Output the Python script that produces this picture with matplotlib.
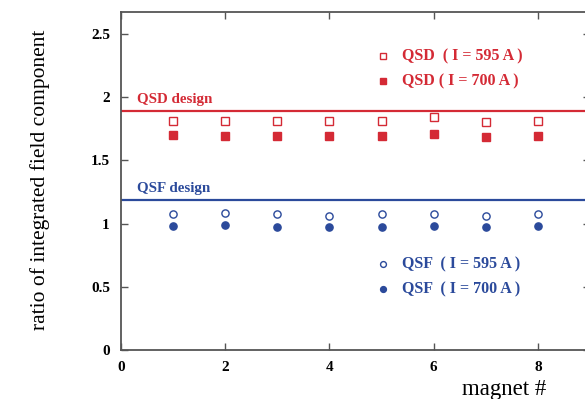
import matplotlib
matplotlib.use("Agg")
import matplotlib.pyplot as plt

# Magnet index
magnets = [1, 2, 3, 4, 5, 6, 7, 8]

# Ratio of integrated field component per magnet
qsd_595 = [1.814, 1.814, 1.814, 1.814, 1.814, 1.841, 1.801, 1.814]
qsd_700 = [1.699, 1.693, 1.693, 1.693, 1.693, 1.709, 1.685, 1.693]
qsf_595 = [1.076, 1.084, 1.076, 1.063, 1.076, 1.076, 1.063, 1.076]
qsf_700 = [0.984, 0.992, 0.971, 0.971, 0.971, 0.984, 0.971, 0.984]

# Design values
qsd_design = 1.89
qsf_design = 1.19

RED = "#d42a35"
BLUE = "#2b4a9b"
FRAME = "#555555"

plt.rcParams["font.family"] = ["Liberation Serif", "DejaVu Serif"]

fig = plt.figure(figsize=(5.85, 3.99), dpi=100)
W, H = 585, 399
ax = fig.add_axes([121 / W, 1 - 350 / H, (590 - 121) / W, (350 - 12) / H])

ax.set_xlim(0, 9)
ax.set_ylim(0, 2.675)

ax.axhline(qsd_design, color=RED, lw=1.6, zorder=2)
ax.axhline(qsf_design, color=BLUE, lw=1.6, zorder=2)
ax.text(0.3, qsd_design + 0.04, "QSD design", color=RED, fontsize=10.8,
        fontweight="bold", va="bottom", ha="left")
ax.text(0.3, qsf_design + 0.04, "QSF design", color=BLUE, fontsize=10.8,
        fontweight="bold", va="bottom", ha="left")

ms = 5.2
ax.plot(magnets, qsd_595, ls="none", marker="s", ms=ms, mfc="white",
        mec=RED, mew=1.0, zorder=3)
ax.plot(magnets, qsd_700, ls="none", marker="s", ms=ms, mfc=RED,
        mec=RED, mew=1.0, zorder=3)
ax.plot(magnets, qsf_595, ls="none", marker="o", ms=ms, mfc="white",
        mec=BLUE, mew=1.0, zorder=3)
ax.plot(magnets, qsf_700, ls="none", marker="o", ms=ms, mfc=BLUE,
        mec=BLUE, mew=1.0, zorder=3)

# In-plot key
key = [
    (2.326, "s", "white", RED, "QSD  ( I = 595 A )"),
    (2.128, "s", RED, RED, "QSD ( I = 700 A )"),
    (0.680, "o", "white", BLUE, "QSF  ( I = 595 A )"),
    (0.483, "o", BLUE, BLUE, "QSF  ( I = 700 A )"),
]
for y, m, fc, ec, label in key:
    ax.plot([5.03], [y], ls="none", marker=m, ms=4.2, mfc=fc, mec=ec,
            mew=1.0)
    ax.text(5.39, y, label, color=ec, fontsize=11.5, fontweight="bold",
            va="center", ha="left")

ax.set_xticks([0, 2, 4, 6, 8])
ax.set_yticks([0, 0.5, 1, 1.5, 2, 2.5])
ax.set_xticklabels(["0", "2", "4", "6", "8"])
ax.set_yticklabels(["0", "0.5", "1", "1.5", "2", "2.5"])
ax.tick_params(direction="in", top=True, right=True, length=5, width=1,
               color=FRAME, labelsize=11, pad=8)
for lab in ax.get_xticklabels() + ax.get_yticklabels():
    lab.set_fontweight("bold")
for sp in ax.spines.values():
    sp.set_color(FRAME)
    sp.set_linewidth(1.3)

fig.text(40 / W, 1 - 180 / H, "ratio of integrated field component",
         rotation=90, fontsize=15.5, ha="center", va="center")
fig.text(504 / W, 1 - 389 / H, "magnet #", fontsize=16.5, ha="center",
         va="center")

fig.savefig("out.png", dpi=100)
